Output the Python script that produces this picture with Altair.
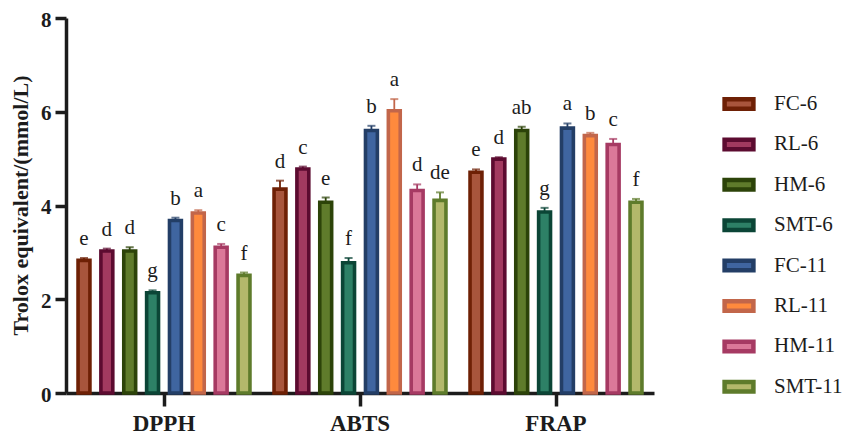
import altair as alt
import pandas as pd

samples = ["FC-6", "RL-6", "HM-6", "SMT-6", "FC-11", "RL-11", "HM-11", "SMT-11"]
assays = ["DPPH", "ABTS", "FRAP"]

dpph = [2.83, 3.03, 3.03, 2.14, 3.68, 3.84, 3.11, 2.51]
dpph_err = [0.05, 0.05, 0.08, 0.05, 0.06, 0.06, 0.07, 0.06]
dpph_sig = ["e", "d", "d", "g", "b", "a", "c", "f"]

abts = [4.35, 4.78, 4.07, 2.78, 5.60, 6.02, 4.32, 4.11]
abts_err = [0.18, 0.05, 0.10, 0.10, 0.10, 0.25, 0.13, 0.17]
abts_sig = ["d", "c", "e", "f", "b", "a", "d", "de"]

frap = [4.71, 4.99, 5.60, 3.86, 5.65, 5.49, 5.30, 4.07]
frap_err = [0.06, 0.04, 0.08, 0.09, 0.10, 0.06, 0.12, 0.07]
frap_sig = ["e", "d", "ab", "g", "a", "b", "c", "f"]

fill_colors = ["#A8553C", "#A23A60", "#5F7B2B", "#2D8066",
               "#3F65A0", "#FF8A3D", "#DB7899", "#B3B86B"]
edge_colors = ["#6E2005", "#5C0B30", "#2C4309", "#0B4536",
               "#233E66", "#C2664A", "#A63A63", "#5E7B2B"]

rows = []
for assay, vals, errs, sigs in [("DPPH", dpph, dpph_err, dpph_sig),
                                ("ABTS", abts, abts_err, abts_sig),
                                ("FRAP", frap, frap_err, frap_sig)]:
    for s, v, e, g in zip(samples, vals, errs, sigs):
        rows.append({"assay": assay, "sample": s, "value": v,
                     "top": v + e, "sig": g})
df = pd.DataFrame(rows)

FONT = "Liberation Serif"
INK = "#1c1c1c"

x = alt.X("assay:N", sort=assays, title=None,
          scale=alt.Scale(paddingInner=0, paddingOuter=0),
          axis=alt.Axis(labelAngle=0, labelFontSize=23, labelFontWeight="bold",
                        labelPadding=6, tickSize=13))
xoff = alt.XOffset("sample:N", sort=samples,
                   scale=alt.Scale(paddingInner=0.48, paddingOuter=0.527))
y_scale = alt.Scale(domain=[0, 8], nice=False)

legend = alt.Legend(title=None, orient="none", legendX=656, legendY=69,
                    symbolType="M-1,-0.33L1,-0.33L1,0.33L-1,0.33Z",
                    symbolSize=830, symbolStrokeWidth=4.5, symbolOpacity=1,
                    labelFont=FONT, labelFontSize=21, labelColor=INK,
                    labelOffset=18, rowPadding=9.4, padding=0)

bars = alt.Chart().mark_bar(strokeWidth=3.6, opacity=1).encode(
    x=x,
    xOffset=xoff,
    y=alt.Y("value:Q", scale=y_scale, title="Trolox equivalent/(mmol/L)",
            axis=alt.Axis(values=[0, 2, 4, 6, 8], tickSize=11, labelPadding=4,
                          labelOffset=2,
                          labelFontSize=21, labelFontWeight="bold",
                          titleFontSize=22, titleFontWeight="bold",
                          titleX=-46, titleY=187, titleAngle=-90,
                          titleAlign="center", titleBaseline="middle")),
    fill=alt.Fill("sample:N", sort=samples,
                  scale=alt.Scale(domain=samples, range=fill_colors),
                  legend=legend),
    stroke=alt.Stroke("sample:N", sort=samples,
                      scale=alt.Scale(domain=samples, range=edge_colors),
                      legend=legend),
)

err_color = alt.Color("sample:N", sort=samples,
                      scale=alt.Scale(domain=samples, range=edge_colors),
                      legend=None)

whisker = alt.Chart().mark_rule(strokeWidth=1.8).encode(
    x=x, xOffset=xoff,
    y=alt.Y("value:Q", scale=y_scale), y2="top:Q",
    color=err_color,
)

caps = alt.Chart().mark_tick(orient="horizontal", size=8, thickness=2).encode(
    x=x, xOffset=xoff,
    y=alt.Y("top:Q", scale=y_scale),
    color=err_color,
)

letters = alt.Chart().mark_text(font=FONT, fontSize=21, color=INK,
                                baseline="alphabetic", dy=-13).encode(
    x=x, xOffset=xoff,
    y=alt.Y("top:Q", scale=y_scale),
    text="sig:N",
)

chart = alt.layer(bars, whisker, caps, letters, data=df).properties(
    width=588, height=375,
    padding={"left": 58, "top": 10, "right": 192, "bottom": 48},
    autosize=alt.AutoSizeParams(type="none"),
).configure_view(stroke=None).configure_axis(
    grid=False, domainColor=INK, domainWidth=3.5, tickColor=INK, tickWidth=3.5,
    labelColor=INK, titleColor=INK, labelFont=FONT, titleFont=FONT,
).configure_axisY(domain=True)

chart.save("out.html", embed_options={"renderer": "svg", "actions": False})
